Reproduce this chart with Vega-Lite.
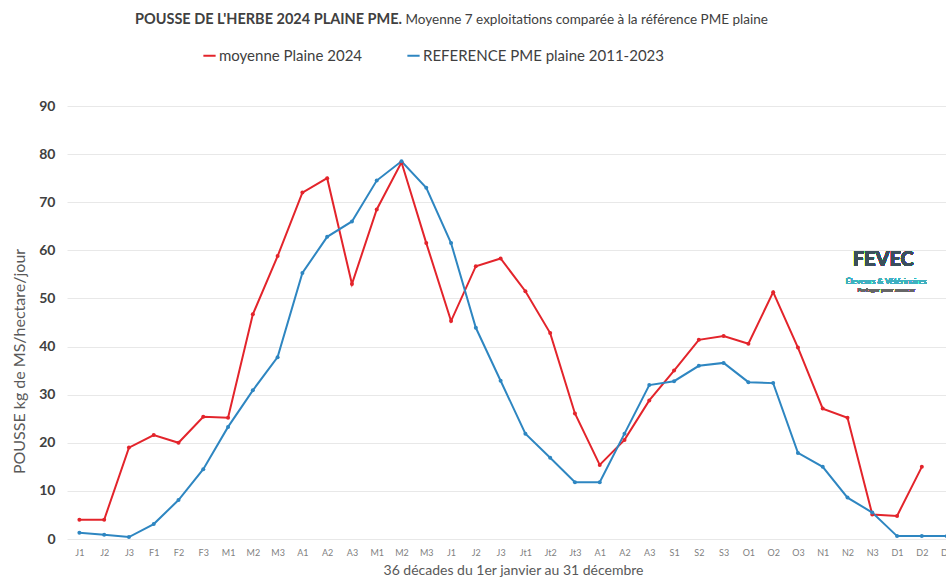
{
  "$schema": "https://vega.github.io/schema/vega-lite/v6.json",
  "width": 892,
  "height": 433,
  "autosize": {"type": "none"},
  "padding": {"left": 67, "top": 106, "right": -13, "bottom": 38},
  "background": "white",
  "title": {
    "text": "POUSSE DE L'HERBE 2024 PLAINE PME.",
    "anchor": "start",
    "frame": "group",
    "dx": 68,
    "offset": -15,
    "font": "Lato",
    "fontSize": 14.5,
    "fontWeight": "bold",
    "color": "#404040"
  },
  "datasets": {
    "pousse": [
      {"i": 0, "decade": "J1", "serie": "moyenne Plaine 2024", "pousse": 4},
      {"i": 1, "decade": "J2", "serie": "moyenne Plaine 2024", "pousse": 4},
      {"i": 2, "decade": "J3", "serie": "moyenne Plaine 2024", "pousse": 19},
      {"i": 3, "decade": "F1", "serie": "moyenne Plaine 2024", "pousse": 21.6},
      {"i": 4, "decade": "F2", "serie": "moyenne Plaine 2024", "pousse": 20},
      {"i": 5, "decade": "F3", "serie": "moyenne Plaine 2024", "pousse": 25.4},
      {"i": 6, "decade": "M1", "serie": "moyenne Plaine 2024", "pousse": 25.2},
      {"i": 7, "decade": "M2", "serie": "moyenne Plaine 2024", "pousse": 46.7},
      {"i": 8, "decade": "M3", "serie": "moyenne Plaine 2024", "pousse": 58.8},
      {"i": 9, "decade": "A1", "serie": "moyenne Plaine 2024", "pousse": 72},
      {"i": 10, "decade": "A2", "serie": "moyenne Plaine 2024", "pousse": 75},
      {"i": 11, "decade": "A3", "serie": "moyenne Plaine 2024", "pousse": 53},
      {"i": 12, "decade": "M1", "serie": "moyenne Plaine 2024", "pousse": 68.5},
      {"i": 13, "decade": "M2", "serie": "moyenne Plaine 2024", "pousse": 78.3},
      {"i": 14, "decade": "M3", "serie": "moyenne Plaine 2024", "pousse": 61.5},
      {"i": 15, "decade": "J1", "serie": "moyenne Plaine 2024", "pousse": 45.3},
      {"i": 16, "decade": "J2", "serie": "moyenne Plaine 2024", "pousse": 56.7},
      {"i": 17, "decade": "J3", "serie": "moyenne Plaine 2024", "pousse": 58.3},
      {"i": 18, "decade": "Jt1", "serie": "moyenne Plaine 2024", "pousse": 51.5},
      {"i": 19, "decade": "Jt2", "serie": "moyenne Plaine 2024", "pousse": 42.8},
      {"i": 20, "decade": "Jt3", "serie": "moyenne Plaine 2024", "pousse": 26.1},
      {"i": 21, "decade": "A1", "serie": "moyenne Plaine 2024", "pousse": 15.4},
      {"i": 22, "decade": "A2", "serie": "moyenne Plaine 2024", "pousse": 20.6},
      {"i": 23, "decade": "A3", "serie": "moyenne Plaine 2024", "pousse": 28.8},
      {"i": 24, "decade": "S1", "serie": "moyenne Plaine 2024", "pousse": 35},
      {"i": 25, "decade": "S2", "serie": "moyenne Plaine 2024", "pousse": 41.4},
      {"i": 26, "decade": "S3", "serie": "moyenne Plaine 2024", "pousse": 42.2},
      {"i": 27, "decade": "O1", "serie": "moyenne Plaine 2024", "pousse": 40.6},
      {"i": 28, "decade": "O2", "serie": "moyenne Plaine 2024", "pousse": 51.3},
      {"i": 29, "decade": "O3", "serie": "moyenne Plaine 2024", "pousse": 39.8},
      {"i": 30, "decade": "N1", "serie": "moyenne Plaine 2024", "pousse": 27.1},
      {"i": 31, "decade": "N2", "serie": "moyenne Plaine 2024", "pousse": 25.2},
      {"i": 32, "decade": "N3", "serie": "moyenne Plaine 2024", "pousse": 5.1},
      {"i": 33, "decade": "D1", "serie": "moyenne Plaine 2024", "pousse": 4.8},
      {"i": 34, "decade": "D2", "serie": "moyenne Plaine 2024", "pousse": 15},
      {"i": 0, "decade": "J1", "serie": "REFERENCE PME plaine 2011-2023", "pousse": 1.3},
      {"i": 1, "decade": "J2", "serie": "REFERENCE PME plaine 2011-2023", "pousse": 0.9},
      {"i": 2, "decade": "J3", "serie": "REFERENCE PME plaine 2011-2023", "pousse": 0.4},
      {"i": 3, "decade": "F1", "serie": "REFERENCE PME plaine 2011-2023", "pousse": 3.1},
      {"i": 4, "decade": "F2", "serie": "REFERENCE PME plaine 2011-2023", "pousse": 8.1},
      {"i": 5, "decade": "F3", "serie": "REFERENCE PME plaine 2011-2023", "pousse": 14.5},
      {"i": 6, "decade": "M1", "serie": "REFERENCE PME plaine 2011-2023", "pousse": 23.3},
      {"i": 7, "decade": "M2", "serie": "REFERENCE PME plaine 2011-2023", "pousse": 30.9},
      {"i": 8, "decade": "M3", "serie": "REFERENCE PME plaine 2011-2023", "pousse": 37.8},
      {"i": 9, "decade": "A1", "serie": "REFERENCE PME plaine 2011-2023", "pousse": 55.3},
      {"i": 10, "decade": "A2", "serie": "REFERENCE PME plaine 2011-2023", "pousse": 62.8},
      {"i": 11, "decade": "A3", "serie": "REFERENCE PME plaine 2011-2023", "pousse": 66},
      {"i": 12, "decade": "M1", "serie": "REFERENCE PME plaine 2011-2023", "pousse": 74.5},
      {"i": 13, "decade": "M2", "serie": "REFERENCE PME plaine 2011-2023", "pousse": 78.5},
      {"i": 14, "decade": "M3", "serie": "REFERENCE PME plaine 2011-2023", "pousse": 73},
      {"i": 15, "decade": "J1", "serie": "REFERENCE PME plaine 2011-2023", "pousse": 61.5},
      {"i": 16, "decade": "J2", "serie": "REFERENCE PME plaine 2011-2023", "pousse": 43.9},
      {"i": 17, "decade": "J3", "serie": "REFERENCE PME plaine 2011-2023", "pousse": 32.9},
      {"i": 18, "decade": "Jt1", "serie": "REFERENCE PME plaine 2011-2023", "pousse": 21.9},
      {"i": 19, "decade": "Jt2", "serie": "REFERENCE PME plaine 2011-2023", "pousse": 16.9},
      {"i": 20, "decade": "Jt3", "serie": "REFERENCE PME plaine 2011-2023", "pousse": 11.8},
      {"i": 21, "decade": "A1", "serie": "REFERENCE PME plaine 2011-2023", "pousse": 11.8},
      {"i": 22, "decade": "A2", "serie": "REFERENCE PME plaine 2011-2023", "pousse": 21.9},
      {"i": 23, "decade": "A3", "serie": "REFERENCE PME plaine 2011-2023", "pousse": 32},
      {"i": 24, "decade": "S1", "serie": "REFERENCE PME plaine 2011-2023", "pousse": 32.8},
      {"i": 25, "decade": "S2", "serie": "REFERENCE PME plaine 2011-2023", "pousse": 36},
      {"i": 26, "decade": "S3", "serie": "REFERENCE PME plaine 2011-2023", "pousse": 36.6},
      {"i": 27, "decade": "O1", "serie": "REFERENCE PME plaine 2011-2023", "pousse": 32.6},
      {"i": 28, "decade": "O2", "serie": "REFERENCE PME plaine 2011-2023", "pousse": 32.4},
      {"i": 29, "decade": "O3", "serie": "REFERENCE PME plaine 2011-2023", "pousse": 17.9},
      {"i": 30, "decade": "N1", "serie": "REFERENCE PME plaine 2011-2023", "pousse": 15},
      {"i": 31, "decade": "N2", "serie": "REFERENCE PME plaine 2011-2023", "pousse": 8.6},
      {"i": 32, "decade": "N3", "serie": "REFERENCE PME plaine 2011-2023", "pousse": 5.5},
      {"i": 33, "decade": "D1", "serie": "REFERENCE PME plaine 2011-2023", "pousse": 0.6},
      {"i": 34, "decade": "D2", "serie": "REFERENCE PME plaine 2011-2023", "pousse": 0.6},
      {"i": 35, "decade": "D3", "serie": "REFERENCE PME plaine 2011-2023", "pousse": 0.6}
    ]
  },
  "data": {"name": "pousse"},
  "resolve": {"axis": {"x": "independent"}},
  "layer": [
    {
      "encoding": {
        "x": {
          "field": "i",
          "type": "ordinal",
          "scale": {"padding": 0.5},
          "axis": {
            "title": "36 décades du 1er janvier au 31 décembre",
            "labelExpr": "['J1','J2','J3','F1','F2','F3','M1','M2','M3','A1','A2','A3','M1','M2','M3','J1','J2','J3','Jt1','Jt2','Jt3','A1','A2','A3','S1','S2','S3','O1','O2','O3','N1','N2','N3','D1','D2','D3'][datum.value]",
            "labelAngle": 0,
            "labelFontSize": 9,
            "labelColor": "#7f7f7f",
            "labelPadding": 9,
            "ticks": false,
            "domain": false,
            "grid": false,
            "titleFontSize": 14,
            "titleFontWeight": "normal",
            "titleColor": "#595959",
            "titlePadding": 6
          }
        },
        "y": {
          "field": "pousse",
          "type": "quantitative",
          "scale": {"domain": [0, 90]},
          "axis": {
            "title": "POUSSE kg de MS/hectare/jour",
            "values": [0, 10, 20, 30, 40, 50, 60, 70, 80, 90],
            "labelFontSize": 14,
            "labelFontWeight": "bold",
            "labelColor": "#404040",
            "labelPadding": 12,
            "ticks": false,
            "domain": false,
            "gridColor": "#e8e8e8",
            "titleFontSize": 16,
            "titleFontWeight": "normal",
            "titleColor": "#595959",
            "titleX": -48,
            "titleY": 255,
            "titleAngle": 270,
            "titleAlign": "center",
            "titleBaseline": "middle"
          }
        },
        "color": {
          "field": "serie",
          "type": "nominal",
          "sort": ["moyenne Plaine 2024", "REFERENCE PME plaine 2011-2023"],
          "scale": {"domain": ["moyenne Plaine 2024", "REFERENCE PME plaine 2011-2023"], "range": ["#e3242b", "#2e86c1"]},
          "legend": {
            "title": null,
            "orient": "none",
            "legendX": 135,
            "legendY": -58,
            "direction": "horizontal",
            "symbolType": "stroke",
            "symbolStrokeWidth": 2,
            "symbolSize": 150,
            "labelFontSize": 15,
            "labelColor": "#404040",
            "labelOffset": 2,
            "labelLimit": 400,
            "columnPadding": 40
          }
        }
      },
      "layer": [
        {"mark": {"type": "line", "strokeWidth": 2}},
        {
          "mark": {"type": "text", "fontSize": 20, "fontWeight": "bold", "dx": 11, "font": "Lato"},
          "encoding": {"x": {"datum": 32}, "y": {"datum": 58}, "text": {"value": "FEVEC"}, "color": {"value": "#3b4f5c"}}
        },
        {
          "mark": {"type": "text", "fontSize": 8, "dx": 14, "font": "Lato"},
          "encoding": {"x": {"datum": 32}, "y": {"datum": 53.4}, "text": {"value": "Éleveurs & Vétérinaires"}, "color": {"value": "#3fb0c0"}}
        },
        {
          "mark": {"type": "text", "fontSize": 6, "dx": 14, "font": "Lato"},
          "encoding": {"x": {"datum": 32}, "y": {"datum": 51.8}, "text": {"value": "Partager pour avancer"}, "color": {"value": "#666666"}}
        }
      ]
    },
    {
      "mark": {"type": "point", "filled": true, "size": 16, "opacity": 1},
      "encoding": {
        "x": {
          "field": "i",
          "type": "ordinal",
          "axis": {
            "orient": "top",
            "title": "Moyenne 7 exploitations comparée à la référence PME plaine",
            "labels": false,
            "ticks": false,
            "domain": false,
            "grid": false,
            "titleX": 338,
            "titleY": -87,
            "titleAlign": "left",
            "titleBaseline": "middle",
            "titleAnchor": "start",
            "titleFontSize": 13.5,
            "titleFontWeight": "normal",
            "titleColor": "#404040",
            "titleLimit": 500
          }
        },
        "y": {"field": "pousse", "type": "quantitative"},
        "color": {"field": "serie", "type": "nominal"}
      }
    }
  ],
  "config": {
    "view": {"stroke": null},
    "font": "Lato"
  }
}
